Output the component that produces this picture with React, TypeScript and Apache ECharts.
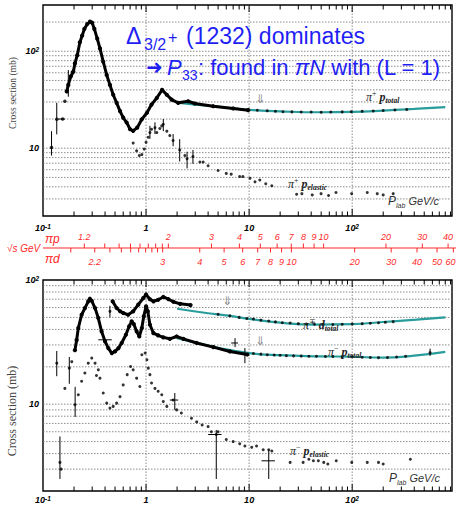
import React, { useEffect, useRef } from "react";
import * as echarts from "echarts";

// ---------- axis ranges (P_lab in GeV/c, cross section in mb) ----------
const X_MIN = 0.1;
const X_MAX = 930;
const TOP_Y_MIN = 2;
const TOP_Y_MAX = 300;
const BOT_Y_MIN = 2;
const BOT_Y_MAX = 100;

// ---------- top panel: pi+ p ----------
const pipTotalLowP = [0.121, 0.136, 0.155, 0.163];
const pipTotalLowS = [10.2, 19.9, 20, 30.5];
const pipTotalP = [0.17, 0.176, 0.186, 0.197, 0.204, 0.215, 0.228, 0.24, 0.252, 0.269, 0.286, 0.3, 0.315, 0.336, 0.357, 0.384, 0.415, 0.446, 0.48, 0.518, 0.559, 0.6, 0.648, 0.7, 0.75, 0.82, 0.91, 1.02, 1.13, 1.27, 1.43, 1.59, 1.77, 2.05, 2.56, 2.97, 4.48, 7.0, 9.8];
const pipTotalS = [38.5, 45, 55, 61.6, 75, 91, 124, 145, 170, 191, 202, 197, 170, 135, 107, 78, 57, 45, 35.6, 29.4, 24.1, 20.7, 18.4, 15.7, 15.1, 16.3, 19.9, 23.2, 28.2, 33, 40, 35.6, 31.7, 29.4, 30.5, 28.9, 27.1, 25.7, 24.7];
const pipTotalHiP = [12, 15, 18, 21.3, 26, 32, 40, 50, 62, 80, 98, 125, 160, 200, 260, 338];
const pipTotalHiS = [24.6, 24.3, 24.0, 23.8, 23.7, 23.6, 23.6, 23.5, 23.6, 23.7, 23.8, 24.0, 24.2, 24.5, 24.8, 25.1];
const pipFitP = [2, 3, 5, 10, 20, 50, 100, 200, 400, 800];
const pipFitS = [29.5, 28.2, 26.8, 24.9, 24.0, 23.5, 23.7, 24.4, 25.4, 26.6];
const pipElP = [0.75, 0.81, 0.86, 0.91, 0.96, 1.0, 1.05, 1.09, 1.13, 1.22, 1.27, 1.36, 1.42, 1.47, 1.59, 1.7, 1.83, 2.12, 2.38, 2.5, 2.85, 3.33, 3.58, 4.0, 5.0, 6.0, 6.7, 8.1, 8.7, 10.2, 11.4, 12.7, 14.5, 16.6, 28.9, 32.5, 41, 49.9, 59, 69.7, 98.8, 140, 175, 200, 250];
const pipElS = [11.3, 9.4, 8.4, 8.6, 9.8, 11.5, 13, 14.5, 15.7, 16.3, 14.5, 16, 17, 17.7, 15, 13.5, 12, 9.6, 8.4, 7.8, 8.2, 7.2, 7.2, 6.6, 5.9, 5.5, 5.4, 5.1, 5.1, 4.9, 4.5, 4.7, 4.3, 4.1, 3.35, 3.4, 3.3, 3.4, 3.25, 3.5, 3.4, 3.5, 3.4, 3.3, 3.4];
const pipErrP = [0.121, 0.136, 0.176, 1.09, 1.22, 1.47, 1.83, 2.12, 2.5, 2.85];
const pipErrLo = [8.4, 13.9, 34, 12.5, 14, 15, 10.5, 7.3, 6.2, 6.9];
const pipErrHi = [15, 29.4, 64, 17, 18.5, 20, 14, 12.4, 9.2, 9.6];
const pipErrHLo = [0.141, 0.186];
const pipErrHHi = [0.163, 0.204];
const pipErrHS = [20, 61.6];

// ---------- bottom panel: pi- p and pi d ----------
const pidTotalP = [0.474, 0.518, 0.56, 0.6, 0.67, 0.75, 0.84, 0.94, 1.0, 1.09, 1.18, 1.31, 1.47, 1.65, 1.84, 2.14, 2.7];
const pidTotalS = [67.3, 59.5, 56, 54.2, 52.5, 55.9, 63.3, 71.5, 76.5, 70, 67.3, 69.3, 73, 70, 66.8, 64.3, 62.8];
const pidFitP = [2, 4, 6, 10, 20, 45, 100, 200, 420, 800];
const pidFitS = [58.7, 54, 51.9, 48.7, 45.3, 43.8, 44.2, 45.9, 47.9, 50];
const pidHiP = [5, 6.5, 8, 9.5, 11, 13, 15.5, 18, 21, 25, 30, 36, 43, 52, 65, 80, 100, 125, 150, 180, 210, 250];
const pidHiS = [53, 51.5, 50, 49, 48.5, 47.5, 46.8, 46, 45.3, 45, 44.5, 44.2, 44, 43.8, 43.8, 44, 44.2, 44.5, 44.8, 45.3, 45.6, 46.2];
const pimTotalP = [0.204, 0.212, 0.22, 0.237, 0.255, 0.275, 0.285, 0.297, 0.32, 0.344, 0.37, 0.4, 0.43, 0.465, 0.5, 0.54, 0.58, 0.637, 0.686, 0.725, 0.76, 0.81, 0.86, 0.91, 0.95, 1.0, 1.04, 1.09, 1.18, 1.31, 1.47, 1.7, 1.98, 2.3, 3.1, 4.5, 6.5, 9.6];
const pimTotalS = [27.2, 32.8, 41, 52.5, 59.4, 67.3, 70.7, 68, 59.4, 49.4, 38.6, 32, 28.3, 25.8, 26.6, 28.3, 31.1, 36.2, 42.4, 46.5, 44.2, 38.6, 35.1, 41.1, 51, 61.3, 55.9, 43.6, 37.3, 35.8, 34.5, 33.6, 35.1, 33.6, 31.1, 28.8, 26.6, 25.1];
const pimFitP = [2, 5, 10, 20, 50, 100, 200, 400, 800];
const pimFitS = [34, 28.5, 25.8, 24.8, 24.3, 24.1, 23.7, 24.6, 26.4];
const pimHiP = [11, 13, 15, 17.5, 20, 23, 27, 32, 38, 45, 55, 65, 80, 100, 125, 150, 180, 220, 270, 330, 570];
const pimHiS = [25.6, 25.3, 25, 24.9, 24.8, 24.6, 24.5, 24.4, 24.3, 24.3, 24.2, 24.2, 24.1, 24.1, 23.9, 23.8, 23.7, 23.8, 24, 24.3, 26];
const pimElP = [0.163, 0.18, 0.19, 0.204, 0.22, 0.237, 0.255, 0.275, 0.297, 0.32, 0.33, 0.344, 0.357, 0.384, 0.415, 0.446, 0.48, 0.518, 0.559, 0.6, 0.656, 0.707, 0.75, 0.81, 0.87, 0.91, 0.98, 1.02, 1.05, 1.09, 1.13, 1.22, 1.31, 1.42, 1.47, 1.59, 1.83, 1.98, 2.2, 2.76, 3.1, 3.5, 4.0, 4.3, 4.8, 5.0, 6.0, 7.0, 8.1, 9.1, 10.6, 11.8, 13.7, 15.5, 16.6, 25, 33.4, 38, 42, 47, 53, 58, 70, 99, 140, 180, 200, 367];
const pimElS = [13.4, 19.5, 22, 9.9, 11.9, 15.3, 17.8, 21.4, 23.5, 21.4, 17, 18.9, 16.2, 12.3, 10.2, 9.3, 9.6, 10.2, 11.5, 14.3, 17.3, 20.1, 18.9, 16.2, 13.9, 25, 25.8, 22.8, 19.5, 17.3, 14.8, 13.4, 12.7, 11.9, 10.5, 9.6, 10.8, 9, 8.5, 7.7, 7.2, 6.8, 6.6, 6.0, 5.7, 6.0, 5.2, 5.0, 4.8, 4.6, 4.5, 4.6, 4.3, 4.3, 4.2, 3.4, 3.4, 3.6, 3.5, 3.5, 3.4, 3.3, 3.5, 3.4, 3.4, 3.4, 3.3, 3.6];
const botLowP = [0.136, 0.146, 0.15, 0.446];
const botLowS = [21.4, 3.4, 3.0, 55.9];
const botErrP = [0.136, 0.146, 0.18, 0.205, 0.446, 7.3, 9.1, 1.9, 4.8, 15.5, 570];
const botErrLo = [16.8, 2.5, 14.6, 7.9, 50, 28.8, 21.4, 9, 2.5, 2.5, 24.5];
const botErrHi = [26.8, 5.5, 24, 13.8, 62, 34, 28.3, 12.3, 6.2, 4.3, 28];
const botErrHLo = [0.344, 6.7, 8.5, 1.7, 4.0, 13.2];
const botErrHHi = [0.465, 7.8, 9.8, 2.05, 5.4, 17.8];
const botErrHS = [33, 31.1, 25.1, 10.8, 5.7, 3.5];

// ---------- sqrt(s) scale (GeV) ----------
const PIP_SQRT_S = [1.2, 1.3, 1.4, 1.5, 1.6, 1.7, 1.8, 1.9, 2, 3, 4, 5, 6, 7, 8, 9, 10, 20, 30, 40];
const PIP_SQRT_S_LABELS = ["1.2", "", "", "", "", "", "", "", "2", "3", "4", "5", "6", "7", "8", "9", "10", "20", "30", "40"];
const PID_SQRT_S = [2.1, 2.2, 2.3, 2.4, 2.5, 2.6, 2.7, 2.8, 2.9, 3, 4, 5, 6, 7, 8, 9, 10, 20, 30, 40, 50, 60];
const PID_SQRT_S_LABELS = ["", "2.2", "", "", "", "", "", "", "", "3", "4", "5", "6", "7", "8", "9", "10", "20", "30", "40", "50", "60"];
const M_PI = 0.13957;
const M_P = 0.93827;
const M_D = 1.87561;

// gridline values
const H_GRID_TOP = [3, 4, 5, 6, 7, 8, 9, 10, 20, 30, 40, 50, 60, 70, 80, 90, 100, 200];
const H_GRID_BOT = [3, 4, 5, 6, 7, 8, 9, 10, 20, 30, 40, 50, 60, 70, 80, 90];
const V_GRID = [1, 10, 100];
const X_TICKS = [0.2, 0.3, 0.4, 0.5, 0.6, 0.7, 0.8, 0.9, 1, 2, 3, 4, 5, 6, 7, 8, 9, 10, 20, 30, 40, 50, 60, 70, 80, 90, 100, 200, 300, 400, 500, 600, 700, 800, 900];

const SANS = "'Liberation Sans', Arial, Helvetica, sans-serif";
const SERIF = "'Liberation Serif', 'DejaVu Serif', serif";
const BLUE = "#1f1ff5";
const RED = "#ff2a2a";
const TEAL = "#2a9c9c";
const GRID_GRAY = "#707070";
const PAGE_W = 456;

const zip2 = (a: number[], b: number[]) => a.map((v, i) => [v, b[i]]);
const zip3 = (a: number[], b: number[], c: number[]) => a.map((v, i) => [v, b[i], c[i]]);

function plabFromSqrtS(rs: number, M: number) {
  const s = rs * rs;
  const E = (s - M_PI * M_PI - M * M) / (2 * M);
  return Math.sqrt(E * E - M_PI * M_PI);
}

function isDecade(v: number) {
  const l = Math.log10(v);
  return Math.abs(l - Math.round(l)) < 1e-6;
}

function axisLabelFmt(v: number) {
  if (!isDecade(v)) return "";
  const e = Math.round(Math.log10(v));
  if (e === 0) return "{b|1}";
  if (e === 1) return "{b|10}";
  return "{b|10}{s|" + e + "}";
}

const labelRich = {
  b: { fontFamily: SANS, fontSize: 9, fontWeight: "bold", fontStyle: "italic", color: "#000", lineHeight: 10 },
  s: { fontFamily: SANS, fontSize: 6.5, fontWeight: "bold", fontStyle: "italic", color: "#000", lineHeight: 5, verticalAlign: "top" },
};

function mkX(gi: number, show: boolean, margin: number) {
  return {
    gridIndex: gi, type: "log", logBase: 10, min: X_MIN, max: X_MAX,
    axisLine: { show: false }, axisTick: { show: false }, splitLine: { show: false },
    axisLabel: { show, margin, formatter: axisLabelFmt, rich: labelRich },
  };
}
function mkY(gi: number, min: number, max: number) {
  return {
    gridIndex: gi, type: "log", logBase: 10, min, max,
    axisLine: { show: false }, axisTick: { show: false }, splitLine: { show: false },
    axisLabel: { show: true, margin: 4, formatter: axisLabelFmt, rich: labelRich },
  };
}

function denseLine(gi: number, p: number[], s: number[]) {
  return {
    type: "line", xAxisIndex: gi, yAxisIndex: gi, data: zip2(p, s), z: 6,
    symbol: "circle", symbolSize: 4.2, showSymbol: true, showAllSymbol: true,
    lineStyle: { color: "#000", width: 3 }, itemStyle: { color: "#000" }, silent: true,
  };
}
function fitLine(gi: number, p: number[], s: number[]) {
  return {
    type: "line", xAxisIndex: gi, yAxisIndex: gi, data: zip2(p, s), z: 4, smooth: true,
    symbol: "none", lineStyle: { color: TEAL, width: 2.2 }, silent: true,
  };
}
function dots(gi: number, p: number[], s: number[], size = 3) {
  return {
    type: "scatter", xAxisIndex: gi, yAxisIndex: gi, data: zip2(p, s), z: 7,
    symbol: "circle", symbolSize: size, itemStyle: { color: "#000" }, silent: true,
  };
}
function errV(gi: number, p: number[], lo: number[], hi: number[]) {
  return {
    type: "custom", xAxisIndex: gi, yAxisIndex: gi, data: zip3(p, lo, hi), z: 7, silent: true,
    encode: { x: 0, y: [1, 2] },
    renderItem: (_params: any, api: any) => {
      const a = api.coord([api.value(0), api.value(1)]);
      const b = api.coord([api.value(0), api.value(2)]);
      return { type: "line", shape: { x1: a[0], y1: a[1], x2: b[0], y2: b[1] }, style: { stroke: "#000", lineWidth: 1 } };
    },
  };
}
function errH(gi: number, lo: number[], hi: number[], s: number[]) {
  return {
    type: "custom", xAxisIndex: gi, yAxisIndex: gi, data: zip3(lo, hi, s), z: 7, silent: true,
    encode: { x: [0, 1], y: 2 },
    renderItem: (_params: any, api: any) => {
      const a = api.coord([api.value(0), api.value(2)]);
      const b = api.coord([api.value(1), api.value(2)]);
      return { type: "line", shape: { x1: a[0], y1: a[1], x2: b[0], y2: b[1] }, style: { stroke: "#000", lineWidth: 1 } };
    },
  };
}
function hGrid(gi: number, vals: number[]) {
  return {
    type: "custom", xAxisIndex: gi, yAxisIndex: gi, data: vals.map((v) => [X_MIN, v]), z: 1, silent: true,
    renderItem: (_params: any, api: any) => {
      const a = api.coord([X_MIN, api.value(1)]);
      const b = api.coord([X_MAX, api.value(1)]);
      return { type: "line", shape: { x1: a[0], y1: a[1], x2: b[0], y2: b[1] }, style: { stroke: GRID_GRAY, lineWidth: 0.8, lineDash: [1.5, 1.5] } };
    },
  };
}
function vGrid(gi: number, yMin: number, yMax: number) {
  return {
    type: "custom", xAxisIndex: gi, yAxisIndex: gi, data: V_GRID.map((v) => [v, yMin]), z: 1, silent: true,
    renderItem: (_params: any, api: any) => {
      const a = api.coord([api.value(0), yMin]);
      const b = api.coord([api.value(0), yMax]);
      return { type: "line", shape: { x1: a[0], y1: a[1], x2: b[0], y2: b[1] }, style: { stroke: GRID_GRAY, lineWidth: 0.8, lineDash: [1.5, 1.5] } };
    },
  };
}
function frameTicks(gi: number, yMin: number, yMax: number) {
  return {
    type: "custom", xAxisIndex: gi, yAxisIndex: gi, data: X_TICKS.map((v) => [v, yMin]), z: 8, silent: true,
    renderItem: (_params: any, api: any) => {
      const v = api.value(0);
      const t = api.coord([v, yMax]);
      const b = api.coord([v, yMin]);
      const L = isDecade(v) ? 7 : 4.5;
      return {
        type: "group",
        children: [
          { type: "line", shape: { x1: t[0], y1: t[1], x2: t[0], y2: t[1] + L }, style: { stroke: "#000", lineWidth: 1 } },
          { type: "line", shape: { x1: b[0], y1: b[1], x2: b[0], y2: b[1] - L }, style: { stroke: "#000", lineWidth: 1 } },
        ],
      };
    },
  };
}
function sqrtSScale(values: number[], labels: string[], M: number, above: boolean) {
  return {
    type: "custom", xAxisIndex: 2, yAxisIndex: 2, data: values.map((rs) => [plabFromSqrtS(rs, M), 0.5]), z: 5, silent: true,
    renderItem: (params: any, api: any) => {
      const c = api.coord([api.value(0), 0.5]);
      const dir = above ? -1 : 1;
      const label = labels[params.dataIndex];
      // keep a label that would run past the page edge inside it
      const nearEdge = c[0] + 6 > PAGE_W;
      const lx = nearEdge ? PAGE_W - 0.5 : c[0];
      const al = nearEdge ? "right" : "center";
      return {
        type: "group",
        children: [
          { type: "line", shape: { x1: c[0], y1: c[1], x2: c[0], y2: c[1] + dir * 4.5 }, style: { stroke: RED, lineWidth: 1 } },
          {
            type: "text", x: lx, y: c[1] + dir * (above ? 11 : 13.5),
            style: { text: label, fill: RED, font: "italic 9px " + SANS, align: al, verticalAlign: "middle", textAlign: al, textVerticalAlign: "middle" },
          },
        ],
      };
    },
  };
}

const mathRich = {
  g: { fontFamily: SERIF, fontStyle: "italic", fontSize: 12, fill: "#222", lineHeight: 15 },
  p: { fontFamily: SERIF, fontStyle: "italic", fontWeight: "bold", fontSize: 12, fill: "#222", lineHeight: 15 },
  sp: { fontFamily: SERIF, fontSize: 8, fill: "#222", lineHeight: 8, verticalAlign: "top" },
  sb: { fontFamily: SERIF, fontStyle: "italic", fontWeight: "bold", fontSize: 7.5, fill: "#222", lineHeight: 8, verticalAlign: "bottom" },
  P: { fontFamily: SANS, fontStyle: "italic", fontSize: 12, fill: "#333", lineHeight: 15 },
  l: { fontFamily: SANS, fontStyle: "italic", fontSize: 7, fill: "#333", lineHeight: 7, verticalAlign: "bottom" },
  G: { fontFamily: SANS, fontStyle: "italic", fontSize: 11, fill: "#333", lineHeight: 15 },
};

function txt(x: number, y: number, text: string, font: string, fill: string, align = "left") {
  return {
    type: "text", x, y, silent: true, z: 20,
    style: { text, font, fill, align, verticalAlign: "middle", textAlign: align, textVerticalAlign: "middle" },
  };
}
function richTxt(x: number, y: number, text: string) {
  return {
    type: "text", x, y, silent: true, z: 20,
    style: { text, rich: mathRich, fill: "#222", font: "12px " + SERIF, align: "left", verticalAlign: "middle", textAlign: "left", textVerticalAlign: "middle" },
  };
}

function buildOption() {
  const graphic: any[] = [
    // blue annotation
    txt(126, 36, "\u0394", "23px " + SANS, BLUE),
    txt(144, 44, "3/2", "16px " + SANS, BLUE),
    txt(168, 37, "+", "16px " + SANS, BLUE),
    txt(186, 36, "(1232) dominates", "23px " + SANS, BLUE),
    txt(146, 67, "\u279C", "20px 'DejaVu Sans', sans-serif", BLUE),
    txt(167, 67, "P", "italic 22px " + SANS, BLUE),
    txt(182, 75, "33", "14px " + SANS, BLUE),
    {
      type: "text", x: 198, y: 67, silent: true, z: 20,
      style: {
        text: "{n|: found in }{i|\u03C0N}{n| with (L = 1)}",
        rich: {
          n: { fontFamily: SANS, fontSize: 22, fill: BLUE },
          i: { fontFamily: SANS, fontSize: 22, fontStyle: "italic", fill: BLUE },
        },
        fill: BLUE, font: "22px " + SANS, align: "left", verticalAlign: "middle", textAlign: "left", textVerticalAlign: "middle",
      },
    },
    // y titles
    { type: "text", x: 13, y: 93, rotation: Math.PI / 2, silent: true, style: { text: "Cross section (mb)", font: "9.5px " + SERIF, fill: "#444", align: "center", verticalAlign: "middle", textAlign: "center", textVerticalAlign: "middle" } },
    { type: "text", x: 12, y: 411, rotation: Math.PI / 2, silent: true, style: { text: "Cross section (mb)", font: "12px " + SERIF, fill: "#444", align: "center", verticalAlign: "middle", textAlign: "center", textVerticalAlign: "middle" } },
    // in-plot labels
    richTxt(366, 97, "{g|\u03C0}{sp|+}{p| p}{sb|total}"),
    richTxt(288, 184, "{g|\u03C0}{sp|+}{p| p}{sb|elastic}"),
    richTxt(388, 201, "{P|P}{l|lab}{G| GeV/c}"),
    richTxt(303, 325, "{g|\u03C0}{sp|\u2213}{p| d}{sb|total}"),
    richTxt(328, 352, "{g|\u03C0}{sp|\u2212}{p| p}{sb|total}"),
    richTxt(290, 451, "{g|\u03C0}{sp|\u2212}{p| p}{sb|elastic}"),
    richTxt(389, 478, "{P|P}{l|lab}{G| GeV/c}"),
    // arrows
    txt(260, 99, "\u21D3", "12px 'DejaVu Sans', sans-serif", "#8a8a8a", "center"),
    txt(227, 301, "\u21D3", "12px 'DejaVu Sans', sans-serif", "#8a8a8a", "center"),
    txt(260, 341, "\u21D3", "12px 'DejaVu Sans', sans-serif", "#8a8a8a", "center"),
    // sqrt(s) axis
    { type: "line", silent: true, z: 5, shape: { x1: 43, y1: 248, x2: 456, y2: 248 }, style: { stroke: RED, lineWidth: 1.2 } },
    txt(7, 248, "\u221As GeV", "italic 10px " + SANS, RED),
    txt(45, 239, "\u03C0p", "italic 12px " + SANS, RED),
    txt(45, 259, "\u03C0d", "italic 12px " + SANS, RED),
  ];

  return {
    animation: false,
    backgroundColor: "#fff",
    grid: [
      { left: 43, top: 5, width: 409, height: 211, show: true, borderColor: "#000", borderWidth: 1.4, backgroundColor: "transparent", outerBoundsMode: "none", containLabel: false },
      { left: 43, top: 280, width: 409, height: 211, show: true, borderColor: "#000", borderWidth: 1.4, backgroundColor: "transparent", outerBoundsMode: "none", containLabel: false },
      { left: 43, top: 238, width: 409, height: 20, show: false, outerBoundsMode: "none", containLabel: false },
    ],
    xAxis: [mkX(0, true, 7), mkX(1, true, 4), mkX(2, false, 4)],
    yAxis: [
      mkY(0, TOP_Y_MIN, TOP_Y_MAX),
      mkY(1, BOT_Y_MIN, BOT_Y_MAX),
      { gridIndex: 2, type: "value", min: 0, max: 1, show: false },
    ],
    series: [
      hGrid(0, H_GRID_TOP), vGrid(0, TOP_Y_MIN, TOP_Y_MAX), frameTicks(0, TOP_Y_MIN, TOP_Y_MAX),
      hGrid(1, H_GRID_BOT), vGrid(1, BOT_Y_MIN, BOT_Y_MAX), frameTicks(1, BOT_Y_MIN, BOT_Y_MAX),
      // top
      fitLine(0, pipFitP, pipFitS),
      denseLine(0, pipTotalP, pipTotalS),
      dots(0, pipTotalLowP, pipTotalLowS, 3.5),
      dots(0, pipTotalHiP, pipTotalHiS, 3),
      dots(0, pipElP, pipElS, 3),
      errV(0, pipErrP, pipErrLo, pipErrHi),
      errH(0, pipErrHLo, pipErrHHi, pipErrHS),
      // bottom
      fitLine(1, pidFitP, pidFitS),
      fitLine(1, pimFitP, pimFitS),
      denseLine(1, pidTotalP, pidTotalS),
      denseLine(1, pimTotalP, pimTotalS),
      dots(1, pidHiP, pidHiS, 3),
      dots(1, pimHiP, pimHiS, 3),
      dots(1, pimElP, pimElS, 3),
      dots(1, botLowP, botLowS, 3),
      errV(1, botErrP, botErrLo, botErrHi),
      errH(1, botErrHLo, botErrHHi, botErrHS),
      // sqrt(s) scales
      sqrtSScale(PIP_SQRT_S, PIP_SQRT_S_LABELS, M_P, true),
      sqrtSScale(PID_SQRT_S, PID_SQRT_S_LABELS, M_D, false),
    ],
    graphic,
  };
}

export default function App() {
  const ref = useRef<HTMLDivElement>(null);
  useEffect(() => {
    if (!ref.current) return;
    const chart = echarts.init(ref.current, null, { renderer: "svg" });
    chart.setOption(buildOption() as any);
    return () => chart.dispose();
  }, []);
  return <div ref={ref} style={{ position: "fixed", left: 0, top: 0, width: 456, height: 506, background: "#fff" }} />;
}
